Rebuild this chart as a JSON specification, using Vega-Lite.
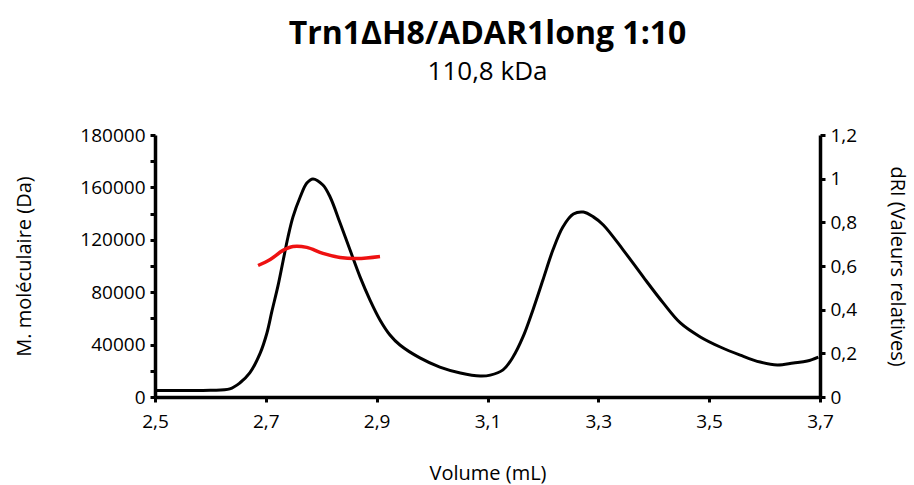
{
  "$schema": "https://vega.github.io/schema/vega-lite/v6.json",
  "autosize": {"type": "none"},
  "width": 665,
  "height": 262,
  "padding": {"left": 155, "top": 135, "right": 94, "bottom": 88},
  "background": "white",
  "config": {
    "font": "Open Sans",
    "view": {"stroke": null},
    "axis": {"domain": true, "ticks": true, "domainColor": "black", "domainWidth": 3.5, "tickColor": "black", "tickWidth": 3, "tickSize": 5}
  },
  "title": {
    "text": "Trn1ΔH8/ADAR1long 1:10",
    "subtitle": "110,8 kDa",
    "font": "Open Sans",
    "fontSize": 32,
    "fontWeight": "bold",
    "color": "black",
    "subtitleFont": "Open Sans",
    "subtitleFontSize": 26,
    "subtitleColor": "black",
    "subtitlePadding": 8,
    "anchor": "middle",
    "offset": 40
  },
  "datasets": {
    "dri": [
      {"volume": 2.5, "dri": 0.03},
      {"volume": 2.55, "dri": 0.03},
      {"volume": 2.6, "dri": 0.031},
      {"volume": 2.635, "dri": 0.037},
      {"volume": 2.653, "dri": 0.064},
      {"volume": 2.671, "dri": 0.11},
      {"volume": 2.69, "dri": 0.202},
      {"volume": 2.702, "dri": 0.293},
      {"volume": 2.711, "dri": 0.393},
      {"volume": 2.722, "dri": 0.51},
      {"volume": 2.731, "dri": 0.622},
      {"volume": 2.74, "dri": 0.733},
      {"volume": 2.749, "dri": 0.825},
      {"volume": 2.762, "dri": 0.916},
      {"volume": 2.774, "dri": 0.98},
      {"volume": 2.785, "dri": 0.999},
      {"volume": 2.803, "dri": 0.971},
      {"volume": 2.816, "dri": 0.916},
      {"volume": 2.834, "dri": 0.797},
      {"volume": 2.852, "dri": 0.673},
      {"volume": 2.87, "dri": 0.55},
      {"volume": 2.888, "dri": 0.444},
      {"volume": 2.906, "dri": 0.353},
      {"volume": 2.924, "dri": 0.284},
      {"volume": 2.942, "dri": 0.238},
      {"volume": 2.978, "dri": 0.179},
      {"volume": 3.014, "dri": 0.137},
      {"volume": 3.051, "dri": 0.11},
      {"volume": 3.087, "dri": 0.096},
      {"volume": 3.105, "dri": 0.1},
      {"volume": 3.128, "dri": 0.124},
      {"volume": 3.146, "dri": 0.183},
      {"volume": 3.164, "dri": 0.275},
      {"volume": 3.182, "dri": 0.399},
      {"volume": 3.2, "dri": 0.536},
      {"volume": 3.218, "dri": 0.673},
      {"volume": 3.236, "dri": 0.779},
      {"volume": 3.255, "dri": 0.838},
      {"volume": 3.273, "dri": 0.847},
      {"volume": 3.291, "dri": 0.825},
      {"volume": 3.309, "dri": 0.788},
      {"volume": 3.345, "dri": 0.673},
      {"volume": 3.381, "dri": 0.55},
      {"volume": 3.417, "dri": 0.431},
      {"volume": 3.448, "dri": 0.339},
      {"volume": 3.484, "dri": 0.275},
      {"volume": 3.52, "dri": 0.229},
      {"volume": 3.556, "dri": 0.192},
      {"volume": 3.592, "dri": 0.16},
      {"volume": 3.623, "dri": 0.147},
      {"volume": 3.652, "dri": 0.156},
      {"volume": 3.677, "dri": 0.165},
      {"volume": 3.697, "dri": 0.183}
    ],
    "mass": [
      {"volume": 2.686, "mass": 100400},
      {"volume": 2.708, "mass": 105000},
      {"volume": 2.731, "mass": 111900},
      {"volume": 2.749, "mass": 114900},
      {"volume": 2.774, "mass": 114200},
      {"volume": 2.803, "mass": 109600},
      {"volume": 2.834, "mass": 106500},
      {"volume": 2.865, "mass": 105700},
      {"volume": 2.906, "mass": 107300}
    ]
  },
  "layer": [
    {
      "data": {"name": "dri"},
      "mark": {"type": "line", "color": "black", "strokeWidth": 3, "interpolate": "catmull-rom"},
      "encoding": {
        "x": {
          "field": "volume", "type": "quantitative",
          "scale": {"domain": [2.5, 3.7], "nice": false, "zero": false},
          "axis": {"title": "Volume (mL)", "values": [2.5, 2.7, 2.9, 3.1, 3.3, 3.5, 3.7], "labelExpr": "replace(format(datum.value, '.1f'), '.', ',')", "labelPadding": 10, "titlePadding": 32, "labelFlush": false, "grid": false, "labelColor": "black", "titleColor": "black", "labelFont": "Open Sans", "titleFont": "Open Sans", "labelFontSize": 19, "titleFontSize": 20, "titleFontWeight": "normal"}
        },
        "y": {
          "field": "dri", "type": "quantitative",
          "scale": {"domain": [0, 1.2], "nice": false},
          "axis": {"orient": "right", "title": "dRI (Valeurs relatives)", "values": [0, 0.2, 0.4, 0.6, 0.8, 1, 1.2], "labelExpr": "replace(format(datum.value, '.1~f'), '.', ',')", "labelPadding": 5, "titlePadding": 30, "labelFlush": false, "grid": false, "labelColor": "black", "titleColor": "black", "labelFont": "Open Sans", "titleFont": "Open Sans", "labelFontSize": 19, "titleFontSize": 20, "titleFontWeight": "normal"}
        }
      }
    },
    {
      "data": {"name": "mass"},
      "mark": {"type": "line", "color": "#ee1111", "strokeWidth": 3.5, "interpolate": "catmull-rom"},
      "encoding": {
        "x": {
          "field": "volume", "type": "quantitative",
          "scale": {"domain": [2.5, 3.7], "nice": false, "zero": false},
          "axis": {"title": "Volume (mL)", "values": [2.5, 2.7, 2.9, 3.1, 3.3, 3.5, 3.7], "labelExpr": "replace(format(datum.value, '.1f'), '.', ',')", "labelPadding": 10, "titlePadding": 32, "labelFlush": false, "grid": false, "labelColor": "black", "titleColor": "black", "labelFont": "Open Sans", "titleFont": "Open Sans", "labelFontSize": 19, "titleFontSize": 20, "titleFontWeight": "normal"}
        },
        "y": {
          "field": "mass", "type": "quantitative",
          "scale": {"domain": [0, 200000], "nice": false},
          "axis": {"orient": "left", "title": "M. moléculaire (Da)", "values": [0, 20000, 40000, 60000, 80000, 100000, 120000, 140000, 160000, 180000, 200000], "labelExpr": "datum.value == 200000 ? '180000' : (datum.value % 40000 == 0 ? format(datum.value, 'd') : '')", "labelPadding": 5, "titlePadding": 45, "labelFlush": false, "grid": false, "labelColor": "black", "titleColor": "black", "labelFont": "Open Sans", "titleFont": "Open Sans", "labelFontSize": 19, "titleFontSize": 20, "titleFontWeight": "normal"}
        }
      }
    }
  ],
  "resolve": {"scale": {"y": "independent"}}
}
